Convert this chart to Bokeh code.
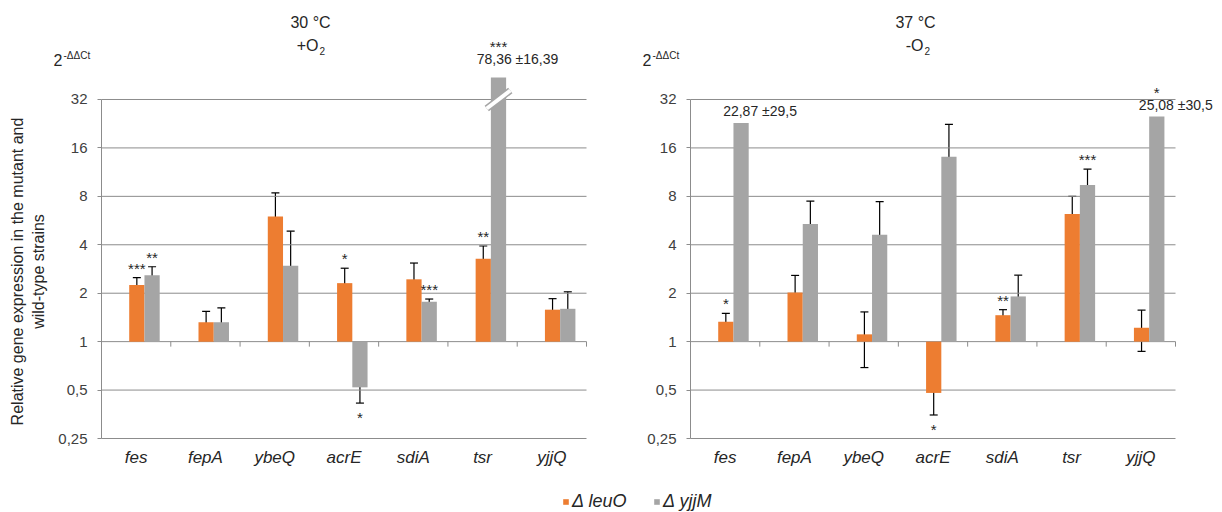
import numpy as np
from bokeh.plotting import figure
from bokeh.models import (Range1d, FixedTicker, CustomJSTickFormatter, ColumnDataSource,
                          Whisker, TeeHead, Label, Legend, LegendItem)
from bokeh.layouts import row
from bokeh.embed import file_html
from bokeh.resources import INLINE
from bokeh.core.properties import value

# ---------------- data ----------------
genes = ["fes", "fepA", "ybeQ", "acrE", "sdiA", "tsr", "yjjQ"]
strains = ["Δ leuO", "Δ yjjM"]

# 30 °C, +O2
leuO_30 = [2.25, 1.32, 6.0, 2.31, 2.44, 3.27, 1.58]
leuO_30_sd = [0.25, 0.22, 2.4, 0.55, 0.64, 0.66, 0.27]
yjjM_30 = [2.59, 1.32, 2.96, 0.52, 1.77, 78.36, 1.60]
yjjM_30_sd = [0.33, 0.30, 1.9, 0.105, 0.07, 16.39, 0.44]
stars_leuO_30 = ["***", "", "", "*", "", "**", ""]
stars_yjjM_30 = ["**", "", "", "*", "***", "***", ""]

# 37 °C, -O2
leuO_37 = [1.33, 2.02, 1.11, 0.48, 1.46, 6.21, 1.22]
leuO_37_sd = [0.17, 0.56, 0.42, 0.13, 0.12, 1.78, 0.35]
yjjM_37 = [22.87, 5.38, 4.62, 14.1, 1.91, 9.41, 25.08]
yjjM_37_sd = [29.5, 2.1, 2.8, 8.3, 0.68, 2.4, 30.5]
stars_leuO_37 = ["*", "", "", "*", "**", "", ""]
stars_yjjM_37 = ["", "", "", "", "", "***", "*"]

y_ticks = [0.25, 0.5, 1, 2, 4, 8, 16, 32]
y_tick_labels = ["0,25", "0,5", "1", "2", "4", "8", "16", "32"]

# ---------------- style / layout ----------------
COLORS = ["#ED7D31", "#A5A5A5"]
GRID = "#8C8C8C"
FONT = "Liberation Sans"
TXT = "#262626"
FIG_H = 512
PPD = 48.43            # pixels per doubling on the value axis
BOTTOM_PX = 438        # page y of the lowest gridline
PPX = 485 / 7          # pixels per category
BAR_W = 0.22
OFFSETS = [0.01, 0.23]
BREAK_PX = 22


def up(v, px):
    return np.asarray(v, float) * 2 ** (px / PPD)


def fmt(v):
    return format(v, "g").replace(".", ",")


def panel(fig_left, width, axis_px, t1, t2, title_cx, series, sds, stars, ytitle=False):
    n = len(genes)
    x0 = -(axis_px - fig_left) / PPX
    x1 = x0 + width / PPX
    y0 = y_ticks[0] * 2 ** (-(FIG_H - BOTTOM_PX) / PPD)
    y1 = y_ticks[0] * 2 ** (BOTTOM_PX / PPD)
    p = figure(width=width, height=FIG_H, x_range=Range1d(x0, x1),
               y_range=Range1d(y0, y1), y_axis_type="log",
               output_backend="svg", toolbar_location=None,
               min_border_left=0, min_border_right=0, min_border_top=0, min_border_bottom=0)
    p.outline_line_color = None
    p.xgrid.visible = False
    p.ygrid.visible = False

    # gridlines across the category span
    p.segment(x0=np.zeros(len(y_ticks)), y0=y_ticks, x1=np.full(len(y_ticks), n), y1=y_ticks,
              line_color=GRID, line_width=1)

    yax = p.yaxis[0]
    yax.fixed_location = 0
    yax.ticker = FixedTicker(ticks=y_ticks)
    yax.formatter = CustomJSTickFormatter(
        args=dict(yt=y_ticks, yl=y_tick_labels),
        code="for (let i = 0; i < yt.length; i++) { if (Math.abs(yt[i] - tick) < 1e-6 * yt[i]) return yl[i]; } return '';")
    yax.bounds = (y_ticks[0], y_ticks[-1])
    yax.axis_line_color = GRID
    yax.major_tick_out = 4
    yax.major_tick_in = 0
    yax.major_tick_line_color = GRID
    yax.minor_tick_line_color = None
    yax.major_label_text_font = FONT
    yax.major_label_text_font_size = "15px"
    yax.major_label_text_color = "#404040"
    yax.major_label_standoff = 10

    xax = p.xaxis[0]
    xax.fixed_location = y_ticks[0]
    xax.ticker = FixedTicker(ticks=[i + 0.5 for i in range(n)])
    xax.formatter = CustomJSTickFormatter(args=dict(genes=genes),
                                          code="return genes[Math.floor(tick)];")
    xax.axis_line_color = None
    xax.major_tick_line_color = None
    xax.major_tick_out = 0
    xax.minor_tick_line_color = None
    xax.major_label_text_font = FONT
    xax.major_label_text_font_style = "italic"
    xax.major_label_text_font_size = "17px"
    xax.major_label_text_color = TXT
    xax.major_label_standoff = 9

    # category tick marks on the "1" line
    bx = np.arange(1, n + 1)
    p.segment(x0=bx, y0=np.ones(len(bx)), x1=bx, y1=up(np.ones(len(bx)), -5),
              line_color=GRID, line_width=1)

    idx = np.arange(n)
    rends = []
    for s in range(2):
        vals = np.array(series[s], float)
        sd = np.array(sds[s], float)
        xs = idx + 0.5 + OFFSETS[s]
        big = vals + sd > y_ticks[-1]
        broken = vals > y_ticks[-1]
        top = np.where(broken, up(y_ticks[-1], BREAK_PX), vals)
        r = p.vbar(x=xs, width=BAR_W, bottom=1, top=top, fill_color=COLORS[s], line_color=None)
        rends.append(r)

        ok = ~big
        src = ColumnDataSource(dict(x=xs[ok], upper=(vals + sd)[ok], lower=(vals - sd)[ok]))
        p.add_layout(Whisker(base="x", upper="upper", lower="lower", source=src,
                             line_color="black", line_width=1.2,
                             upper_head=TeeHead(size=8, line_color="black", line_width=1.2),
                             lower_head=TeeHead(size=8, line_color="black", line_width=1.2)))

        # break marks for bars beyond the axis
        if broken.any():
            xb = xs[broken]
            ya0 = up(np.full(len(xb), y_ticks[-1]), -9)
            ya1 = up(np.full(len(xb), y_ticks[-1]), 9)
            p.segment(x0=xb - 0.17, y0=ya0, x1=xb + 0.17, y1=ya1, line_color=COLORS[s], line_width=7)
            p.segment(x0=xb - 0.17, y0=ya0, x1=xb + 0.17, y1=ya1, line_color="white", line_width=4)

        # value labels for bars whose error bar leaves the axis
        ly = top * 2 ** (np.where(broken, 10, 4) / PPD)
        if big.any():
            txt = [f"{fmt(v)} ±{fmt(d)}" for v, d in zip(vals[big], sd[big])]
            p.text(x=xs[big], y=ly[big], text=txt, x_offset=19, text_align="center",
                   text_baseline="bottom", text_font=value(FONT), text_font_size="14px",
                   text_color=TXT)

        # significance stars
        st = np.array(stars[s])
        has = st != ""
        above = has & (vals >= 1)
        below = has & (vals < 1)
        ya = np.where(big, ly * 2 ** (12 / PPD), (vals + sd) * 2 ** (1 / PPD))
        if above.any():
            p.text(x=xs[above], y=ya[above], text=list(st[above]), text_align="center",
                   text_baseline="bottom", text_font=value(FONT), text_font_size="15px",
                   text_color=TXT)
        if below.any():
            yb = (vals - sd) * 2 ** (-6 / PPD)
            p.text(x=xs[below], y=yb[below], text=list(st[below]), text_align="center",
                   text_baseline="top", text_font=value(FONT), text_font_size="15px",
                   text_color=TXT)

    # texts positioned in page pixels
    def lab(px, py, text, size, align="center", base="middle", angle=0.0):
        p.add_layout(Label(x=px - fig_left, y=FIG_H - py, x_units="screen", y_units="screen",
                           text=text, text_align=align, text_baseline=base, angle=angle,
                           text_font=FONT, text_font_size=size, text_color=TXT))

    lab(title_cx, 22, t1, "16px")
    lab(title_cx + 8, 45, t2, "16px", align="right")
    lab(title_cx + 9, 50, "2", "10px", align="left")
    lab(axis_px - 48, 59, "2", "16px", align="left")
    lab(axis_px - 38, 55, "-ΔΔCt", "10px", align="left")
    if ytitle:
        lab(17, 271, "Relative gene expression in the mutant and", "16px", angle=np.pi / 2)
        lab(38, 271, "wild-type strains", "16px", angle=np.pi / 2)
    return p, rends


p1, r1 = panel(0, 638, 101, "30 °C", "+O", 310,
               [leuO_30, yjjM_30], [leuO_30_sd, yjjM_30_sd],
               [stars_leuO_30, stars_yjjM_30], ytitle=True)
p2, r2 = panel(638, 584, 690, "37 °C", "-O", 915,
               [leuO_37, yjjM_37], [leuO_37_sd, yjjM_37_sd],
               [stars_leuO_37, stars_yjjM_37])


def add_legend(p, item, loc):
    lg = Legend(items=[item], location=loc, orientation="horizontal",
                glyph_width=7, glyph_height=7, label_standoff=3, padding=0, margin=0,
                border_line_color=None, background_fill_alpha=0,
                label_text_font=FONT, label_text_font_style="italic",
                label_text_font_size="18px", label_text_color=TXT)
    p.add_layout(lg)


add_legend(p1, LegendItem(label=strains[0], renderers=[r1[0]]), (562, 0))
add_legend(p2, LegendItem(label=strains[1], renderers=[r2[1]]), (653 - 638, 0))

layout = row(p1, p2)
open("out.html", "w").write(file_html(layout, INLINE))
